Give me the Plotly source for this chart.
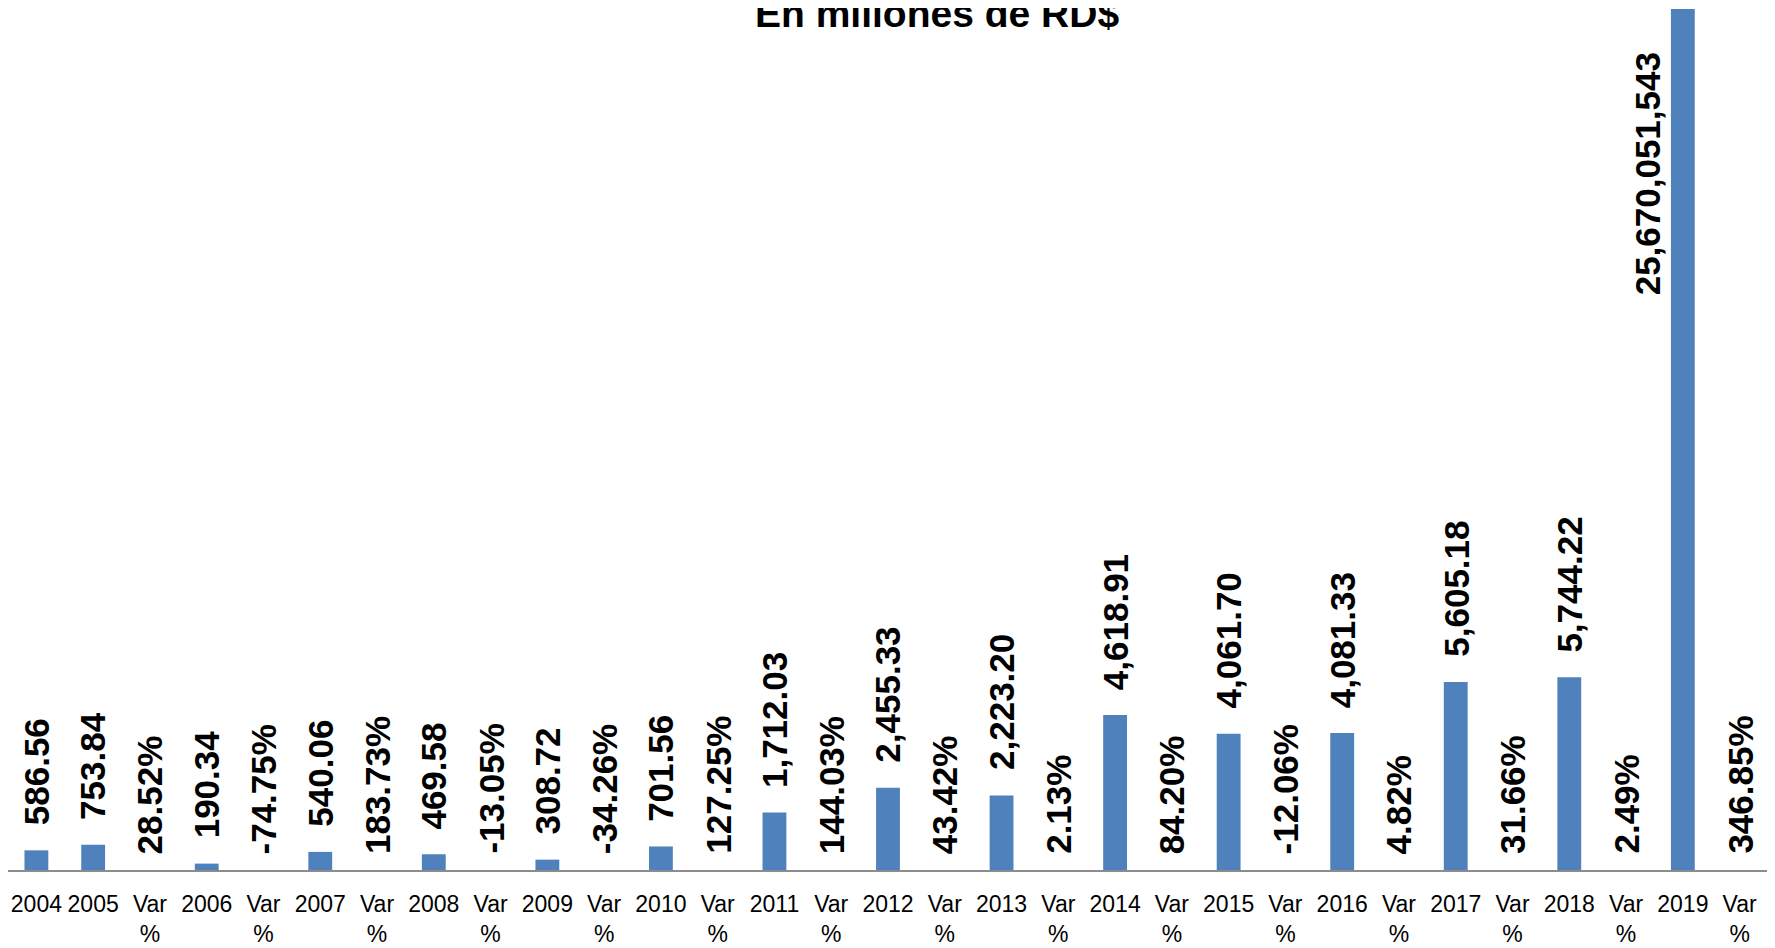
import plotly.graph_objects as go

# ---------------- data ----------------
years = ["2004", "2005", "2006", "2007", "2008", "2009", "2010", "2011",
         "2012", "2013", "2014", "2015", "2016", "2017", "2018", "2019"]
year_values = [586.56, 753.84, 190.34, 540.06, 469.58, 308.72, 701.56, 1712.03,
               2455.33, 2223.20, 4618.91, 4061.70, 4081.33, 5605.18, 5744.22, 25670.05]
year_labels = ["586.56", "753.84", "190.34", "540.06", "469.58", "308.72", "701.56",
               "1,712.03", "2,455.33", "2,223.20", "4,618.91", "4,061.70", "4,081.33",
               "5,605.18", "5,744.22", "25,670,051,543"]
var_values = [28.52, -74.75, 183.73, -13.05, -34.26, 127.25, 144.03, 43.42,
              2.13, 84.20, -12.06, 4.82, 31.66, 2.49, 346.85]
var_tick = "Var<br>%"
title_text = "En millones de RD$"

# ---------------- build category sequence ----------------
ticktext, bar_y, lab_text, is_year = [], [], [], []
for i, (yr, v, lab) in enumerate(zip(years, year_values, year_labels)):
    ticktext.append(yr)
    bar_y.append(v)
    lab_text.append(lab)
    is_year.append(True)
    if i >= 1:
        pv = var_values[i - 1]
        ticktext.append(var_tick)
        bar_y.append(None)
        lab_text.append(f"{pv:.2f}%")
        is_year.append(False)

xs = list(range(len(ticktext)))

FAMILY = "Liberation Sans, Arial, sans-serif"
LABEL_FONT = dict(family=FAMILY, size=35, color="black", weight="bold")
TICK_FONT = dict(family=FAMILY, size=23, color="black")

fig = go.Figure()
fig.add_trace(go.Bar(
    x=xs, y=bar_y, width=0.42,
    marker=dict(color="#4F81BD", line=dict(width=0)),
    hoverinfo="skip",
))

W, H = 1767, 940
H_PLOT = 862
ymax = max(year_values)
ytop = ymax * H_PLOT / (H_PLOT - 1)

annotations = []
last_idx = len(xs) - 2  # 2019 position
for x, yv, txt, yr in zip(xs, bar_y, lab_text, is_year):
    if yr and x == last_idx:
        annotations.append(dict(
            x=x, y=yv, xref="x", yref="y", text=txt, showarrow=False,
            textangle=-90, xanchor="center", yanchor="top",
            xshift=-35, yshift=-42, font=LABEL_FONT, borderpad=0,
        ))
    else:
        annotations.append(dict(
            x=x, y=(yv if yr else 0), xref="x", yref="y", text=txt, showarrow=False,
            textangle=-90, xanchor="center", yanchor="bottom",
            yshift=(24 if yr else 15), font=LABEL_FONT, borderpad=0,
        ))

annotations.append(dict(
    x=0.5281, y=1 - 5 / H_PLOT, xref="paper", yref="paper", text=title_text,
    showarrow=False, xanchor="center", yanchor="middle",
    font=dict(family=FAMILY, size=39, color="black", weight="bold"),
))

fig.update_layout(
    width=W, height=H,
    margin=dict(l=0, r=7, t=0, b=H - H_PLOT, autoexpand=False),
    paper_bgcolor="white", plot_bgcolor="white",
    showlegend=False,
    annotations=annotations,
    xaxis=dict(
        range=[-0.5, len(xs) - 0.5], tickmode="array", tickvals=xs, ticktext=ticktext,
        tickangle=0, showgrid=False, zeroline=False, showline=True,
        linecolor="#8C8C8C", linewidth=2, ticks="", tickfont=TICK_FONT,
        automargin=False, fixedrange=True, ticklabelstandoff=12,
    ),
    yaxis=dict(
        range=[0, ytop], showgrid=False, zeroline=False, showline=False,
        showticklabels=False, ticks="", fixedrange=True, automargin=False,
    ),
)

fig.write_html("out.html")
